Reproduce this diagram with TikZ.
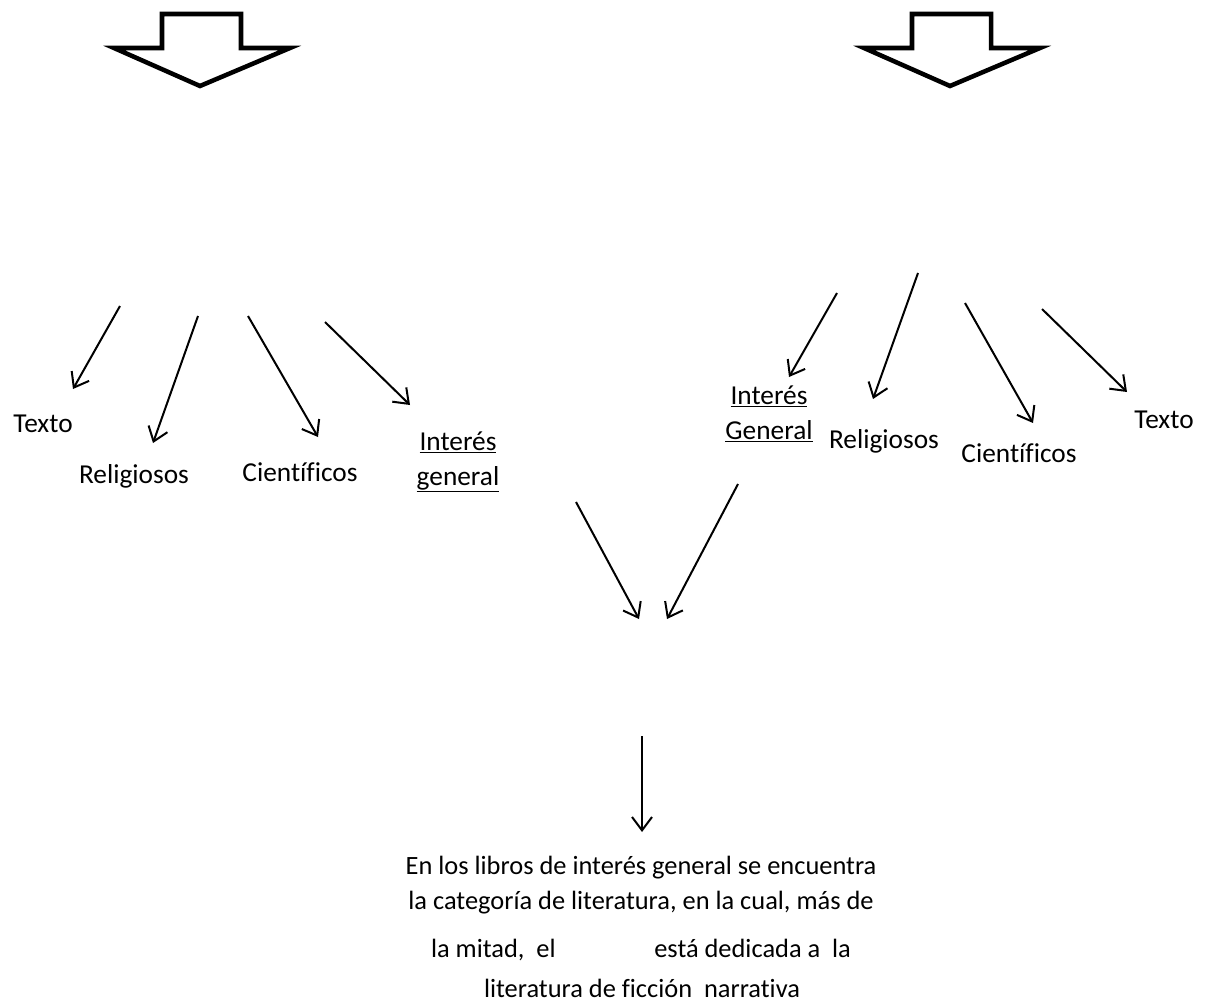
\documentclass[tikz,border=0pt]{standalone}
\usepackage{fontspec}
\setmainfont[Ligatures=NoCommon]{Carlito}
\usetikzlibrary{arrows.meta}
\begin{document}
\begin{tikzpicture}[x=0.75pt,y=-0.75pt,
  lbl/.style={font=\fontsize{20.5pt}{26pt}\selectfont, inner sep=0pt, align=center, anchor=base},
  para/.style={font=\fontsize{19.8pt}{26pt}\selectfont, inner sep=0pt, anchor=base},
  conn/.style={line width=1.5pt, -{Straight Barb[length=10pt,width=15pt,line width=1.5pt]}},
  blockarrow/.style={line width=3.4pt, line join=miter, fill=white, draw=black}]
\useasboundingbox (0,0) rectangle (1205,1003);
% block arrows
\draw[blockarrow] (162,14) -- (241,14) -- (241,48) -- (290,48) -- (200,86) -- (114,48) -- (162,48) -- cycle;
\draw[blockarrow] (912,14) -- (991,14) -- (991,48) -- (1040,48) -- (950,86) -- (864,48) -- (912,48) -- cycle;
% left group
\node[lbl] (lt) at (43,432) {Texto};
\node[lbl] (lr) at (134,483) {Religiosos};
\node[lbl] (lc) at (300,481) {Científicos};
\node[lbl] (li) at (458,485) {\underline{Interés}\\\underline{general}};
\coordinate (ls1) at (120,306); \coordinate (le1) at (73,389);
\coordinate (ls2) at (198,316); \coordinate (le2) at (153,443);
\coordinate (ls3) at (248,316); \coordinate (le3) at (318,437);
\coordinate (ls4) at (325,322); \coordinate (le4) at (410,405);
\draw[conn] (ls1) -- (le1);
\draw[conn] (ls2) -- (le2);
\draw[conn] (ls3) -- (le3);
\draw[conn] (ls4) -- (le4);
% right group
\node[lbl] (ri) at (769,439) {\underline{Interés}\\\underline{General}};
\node[lbl] (rr) at (884,448) {Religiosos};
\node[lbl] (rc) at (1019,462) {Científicos};
\node[lbl] (rt) at (1164,428) {Texto};
\coordinate (rs1) at (837,293); \coordinate (re1) at (789,377);
\coordinate (rs2) at (918,273); \coordinate (re2) at (873,399);
\coordinate (rs3) at (965,303); \coordinate (re3) at (1033,423);
\coordinate (rs4) at (1042,309); \coordinate (re4) at (1127,392);
\draw[conn] (rs1) -- (re1);
\draw[conn] (rs2) -- (re2);
\draw[conn] (rs3) -- (re3);
\draw[conn] (rs4) -- (re4);
% merging arrows
\coordinate (ms1) at (576,502); \coordinate (me1) at (639,619);
\coordinate (ms2) at (738,484); \coordinate (me2) at (667,619);
\draw[conn] (ms1) -- (me1);
\draw[conn] (ms2) -- (me2);
% bottom
\coordinate (bs) at (642,736);
\coordinate (be) at (642,832);
\node[para] (t1) at (641,874) {En los libros de interés general se encuentra};
\node[para] (t2) at (641,909) {la categoría de literatura, en la cual, más de};
\node[para] (t3) at (641,957) {la mitad,\ \ el\hspace*{74pt}está dedicada a\ \ la};
\node[para] (t4) at (642,997) {literatura de ficción\ \ narrativa};
\draw[conn] (bs) -- (be);
\end{tikzpicture}
\end{document}
